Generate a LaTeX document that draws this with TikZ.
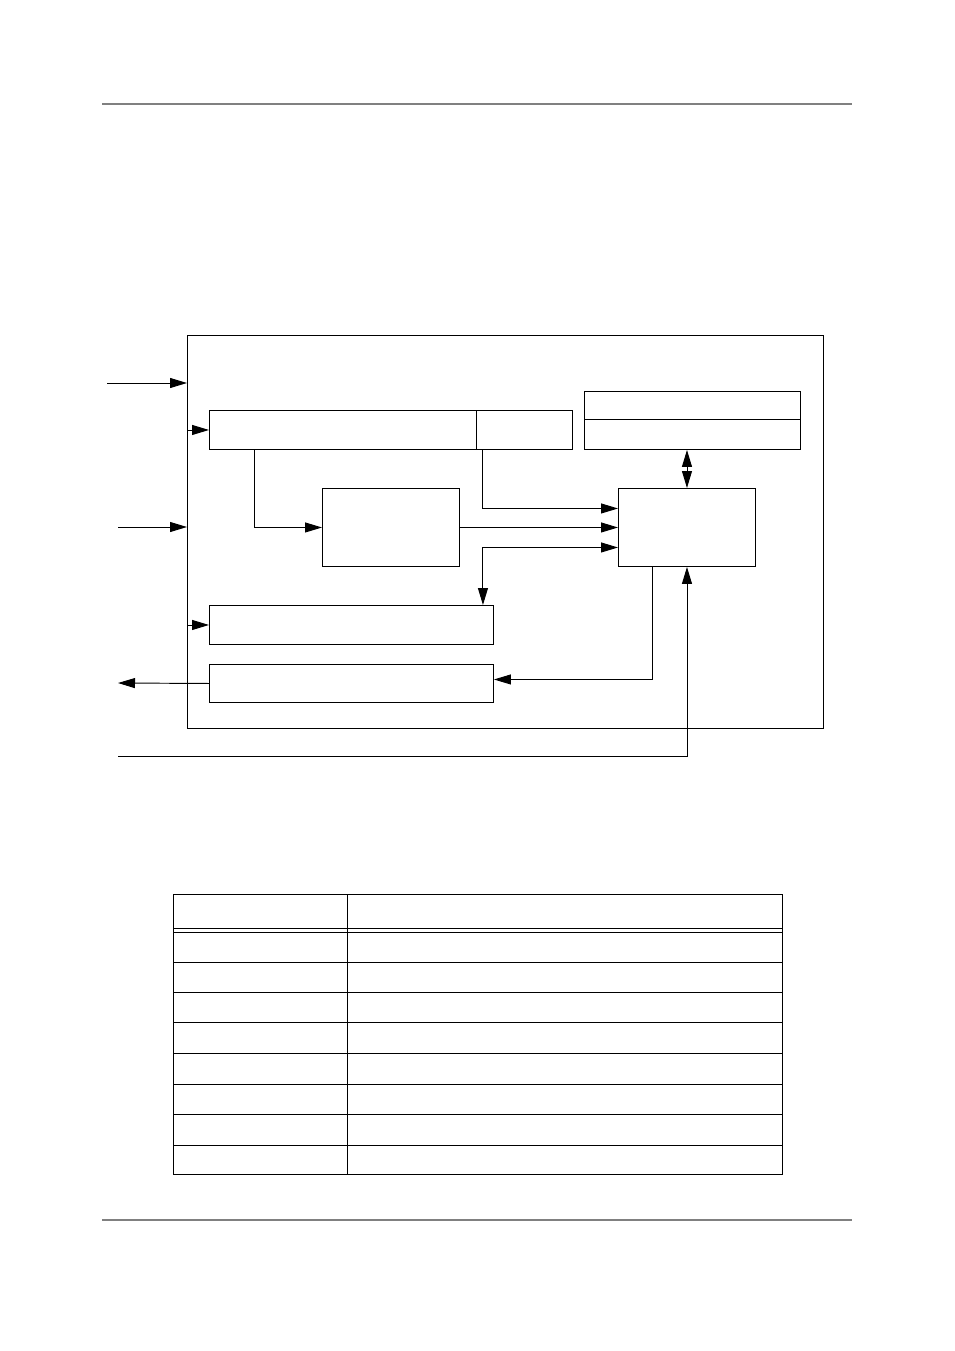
\documentclass[tikz,border=0pt]{standalone}
\usetikzlibrary{arrows.meta,calc}
\tikzset{
  blk/.style={draw, line width=0.95pt, inner sep=0pt, anchor=north west},
  conn/.style={line width=0.95pt, -{Triangle[length=17pt,width=10pt]}},
  bconn/.style={line width=0.95pt, {Triangle[length=17pt,width=10pt]}-{Triangle[length=17pt,width=10pt]}},
  rule/.style={draw=black!50, line width=1.2pt}
}
\begin{document}
\begin{tikzpicture}[x=1pt,y=-1pt]
        \useasboundingbox (0,0) rectangle (954,1351);
        % page rules
        \draw[rule] (102,104) -- (852,104);
        \draw[rule] (102,1220) -- (852,1220);
        % blocks
        \node[blk, minimum width=636pt, minimum height=393pt] (outer) at (187,335) {};
        \node[blk, minimum width=267pt, minimum height=39pt] (inbuf) at (209,410) {};
        \node[blk, minimum width=96pt, minimum height=39pt] (tag) at (476,410) {};
        \node[blk, minimum width=216pt, minimum height=28pt] (rega) at (584,391) {};
        \node[blk, minimum width=216pt, minimum height=30pt] (regb) at (584,419) {};
        \node[blk, minimum width=137pt, minimum height=78pt] (proc) at (322,488) {};
        \node[blk, minimum width=137pt, minimum height=78pt] (ctrl) at (618,488) {};
        \node[blk, minimum width=284pt, minimum height=39pt] (stat) at (209,605) {};
        \node[blk, minimum width=284pt, minimum height=38pt] (outbuf) at (209,664) {};
        % free ends
        \coordinate (in1) at (107,383);
        \coordinate (in2) at (118,527);
        \coordinate (out) at (118,683);
        \coordinate (fb) at (118,756);
        % connectors
        \draw[conn] (in1) -- (in1 -| outer.west);
        \draw[conn] (in2) -- (in2 -| outer.west);
        \draw[conn] (outer.west |- inbuf.west) -- (inbuf.west);
        \draw[conn] (outer.west |- stat.west) -- (stat.west);
        \draw[conn] ([xshift=45pt]inbuf.south west) |- (proc.west);
        \draw[conn] ([xshift=6pt]tag.south west) |- ([yshift=19pt]ctrl.west);
        \draw[conn] (proc.east) -- (ctrl.west);
        \draw[bconn] ([xshift=-11pt]stat.north east) |- ([yshift=-20pt]ctrl.west);
        \draw[bconn] (ctrl.north) -- (ctrl.north |- regb.south);
        \draw[conn] ([xshift=34pt]ctrl.south west) |- ([yshift=4pt]outbuf.east);
        \draw[conn] (outbuf.west) -- (out);
        \draw[conn] (fb) -| (ctrl.south);
        % table
        \draw[line width=0.95pt] (173,894) rectangle (782,1174);
        \draw[line width=0.95pt] (347,894) -- (347,1174);
        \foreach \ry in {928,932,962,992,1022,1053,1084,1114,1145}
          \draw[line width=0.95pt] (173,\ry) -- (782,\ry);
\end{tikzpicture}
\end{document}
